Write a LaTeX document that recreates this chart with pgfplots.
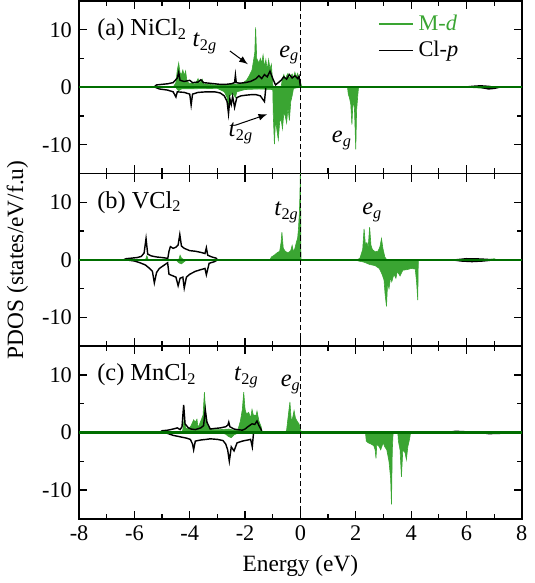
\documentclass[border=0pt]{standalone}
\usepackage{fontspec}
\setmainfont{Liberation Serif}
\usepackage{pgfplots}
\pgfplotsset{compat=1.18}
\usepgfplotslibrary{groupplots}

\definecolor{mdgreen}{RGB}{58,165,50}
\definecolor{zerogreen}{RGB}{0,110,0}

\pgfplotsset{
  pdos/.style={
    xmin=-8, xmax=8, ymin=-15, ymax=15,
    xtick={-8,-6,...,8}, minor x tick num=1,
    ytick={-10,0,10}, minor y tick num=1,
    tick align=inside, major tick length=4pt, minor tick length=2.5pt,
    tick style={black, line width=0.6pt},
    axis line style={line width=0.9pt},
    /pgf/number format/assume math mode=true,
    tick label style={font=\rmfamily\fontsize{11}{13}\selectfont},
    label style={font=\rmfamily\fontsize{11.5}{13}\selectfont},
  },
  dfill/.style={fill=mdgreen, draw=mdgreen, line width=0.3pt, forget plot},
  pline/.style={black, line width=0.7pt, forget plot},
}
\newcommand{\tg}{\textit{t}\textsubscript{2\textit{g}}}
\newcommand{\eg}{\textit{e}\textsubscript{\textit{g}}}

\begin{document}
\begin{tikzpicture}
\begin{groupplot}[
  group style={group size=1 by 3, vertical sep=0pt, xticklabels at=edge bottom},
  scale only axis, width=218pt, height=85pt, pdos
]
% ---------------- (a) NiCl2
\nextgroupplot[legend style={at={(0.66,0.97)}, anchor=north west, draw=none, fill=none,
  font=\fontsize{11}{13}\selectfont}, legend cell align=left]
\addlegendimage{mdgreen, line width=1pt}
\addlegendentry{\textcolor{mdgreen}{M-\textit{d}}}
\addlegendimage{black, line width=0.7pt}
\addlegendentry{Cl-\textit{p}}
\addplot[dfill] coordinates {(-4.6,0)(-4.5,0.8)(-4.45,3.0)(-4.4,4.2)(-4.35,2.5)(-4.3,2.2)(-4.25,3.0)(-4.2,2.0)(-4.15,2.8)(-4.1,1.0)(-4.0,0.6)(-3.9,0.8)(-3.8,0.5)(-3.7,1.5)(-3.65,0.6)(-3.55,1.4)(-3.5,0.6)(-3.3,0.5)(-3.1,0.4)(-2.9,0.5)(-2.7,0.4)(-2.5,0.6)(-2.3,0.5)(-2.1,0.7)(-1.95,1.2)(-1.85,2.0)(-1.75,3.0)(-1.7,4.5)(-1.65,6.0)(-1.62,10.4)(-1.58,5.0)(-1.5,4.2)(-1.45,5.0)(-1.4,4.2)(-1.35,5.6)(-1.3,3.5)(-1.25,4.8)(-1.2,3.0)(-1.15,4.8)(-1.1,3.2)(-1.05,4.0)(-1.0,0.5)(-0.98,0)(-0.7,0)(-0.65,1.5)(-0.6,2.2)(-0.55,1.3)(-0.5,2.0)(-0.45,2.4)(-0.4,1.5)(-0.3,2.3)(-0.25,1.6)(-0.2,2.6)(-0.15,1.8)(-0.1,2.4)(-0.05,1.5)(0.0,1.0)(0.05,0)} \closedcycle;
\addplot[dfill] coordinates {(-4.5,0)(-4.45,-0.4)(-4.4,-0.6)(-4.3,-0.3)(-3.0,-0.2)(-2.75,-0.8)(-2.65,-1.8)(-2.6,-3.0)(-2.55,-1.5)(-2.45,-1.0)(-2.35,-1.8)(-2.3,-0.8)(-2.0,-0.4)(-1.5,-0.3)(-1.0,-0.4)(-0.98,-5.0)(-0.94,-9.9)(-0.9,-5.5)(-0.85,-7.5)(-0.8,-9.1)(-0.75,-6.0)(-0.7,-5.5)(-0.65,-7.2)(-0.6,-4.5)(-0.55,-5.0)(-0.5,-6.2)(-0.45,-3.5)(-0.4,-5.8)(-0.35,-2.5)(-0.3,-1.5)(-0.25,-0.2)(0,0)} \closedcycle;
\addplot[dfill] coordinates {(1.7,0)(1.73,-1.2)(1.78,-2.0)(1.82,-3.0)(1.86,-6.5)(1.9,-2.5)(1.95,-3.5)(2.0,-10.8)(2.03,-4.0)(2.08,-1.0)(2.1,0)} \closedcycle;
\addplot[dfill] coordinates {(6.0,0)(6.3,-0.1)(6.7,-0.2)(7.0,-0.1)(7.3,0)} \closedcycle;
\addplot[pline] coordinates {(-5.30,0)(-5.20,0.4)(-5.0,0.5)(-4.8,0.6)(-4.6,0.8)(-4.45,1.6)(-4.4,2.6)(-4.35,1.2)(-4.2,1.0)(-4.0,1.2)(-3.9,0.8)(-3.7,0.9)(-3.6,1.3)(-3.5,0.8)(-3.3,0.7)(-3.1,0.6)(-2.9,0.5)(-2.7,0.5)(-2.5,0.6)(-2.38,0.8)(-2.35,2.1)(-2.32,0.8)(-2.2,0.7)(-2.0,0.8)(-1.8,1.0)(-1.6,1.5)(-1.5,2.0)(-1.4,1.5)(-1.3,2.2)(-1.2,1.8)(-1.1,2.8)(-1.0,1.5)(-0.9,0.4)(-0.7,1.2)(-0.6,1.8)(-0.5,1.4)(-0.4,2.2)(-0.3,1.6)(-0.2,2.0)(-0.1,1.5)(-0.05,1.9)(0.0,0)};
\addplot[pline] coordinates {(-5.25,0)(-5.1,-0.3)(-4.8,-0.5)(-4.6,-0.8)(-4.5,-1.7)(-4.45,-0.8)(-4.2,-0.9)(-4.0,-1.2)(-3.95,-3.1)(-3.9,-1.2)(-3.7,-0.9)(-3.4,-0.8)(-3.1,-0.8)(-2.9,-1.0)(-2.75,-1.5)(-2.65,-2.5)(-2.6,-4.6)(-2.55,-2.0)(-2.5,-3.0)(-2.45,-1.6)(-2.38,-3.5)(-2.3,-1.8)(-2.15,-1.5)(-2.0,-1.4)(-1.8,-1.3)(-1.6,-1.3)(-1.45,-1.5)(-1.3,-2.5)(-1.25,0)};
\addplot[pline] coordinates {(5.9,0)(6.2,0.15)(6.5,0.25)(6.8,0.15)(7.0,0)};
\addplot[pline] coordinates {(6.5,0)(6.8,-0.3)(7.0,-0.2)(7.2,0)};
\addplot[zerogreen, line width=1.1pt, forget plot] coordinates {(-8,0)(8,0)};
\addplot[black, dashed, line width=0.7pt, dash pattern=on 2.5pt off 1.5pt, forget plot] coordinates {(0,-15)(0,15)};
\node[anchor=west, font=\fontsize{12}{14}\selectfont] at (axis cs:-7.6,10) {(a) NiCl\textsubscript{2}};
\node[font=\fontsize{12}{14}\selectfont] at (axis cs:-3.45,7.6) {\tg};
\draw[-latex, line width=0.5pt] (axis cs:-2.55,6.3) -- (axis cs:-1.9,4.0);
\node[font=\fontsize{12}{14}\selectfont] at (axis cs:-2.15,-8.0) {\tg};
\draw[-latex, line width=0.5pt] (axis cs:-2.35,-6.6) -- (axis cs:-1.2,-4.7);
\node[font=\fontsize{12}{14}\selectfont] at (axis cs:-0.4,5.6) {\eg};
\node[font=\fontsize{12}{14}\selectfont] at (axis cs:1.5,-9.2) {\eg};
% ---------------- (b) VCl2
\nextgroupplot[ylabel={PDOS (states/eV/f.u)}]
\addplot[dfill] coordinates {(-5.6,0)(-5.55,0.7)(-5.5,0)(-4.4,0)(-4.35,0.8)(-4.3,0.3)(-4.2,0)} \closedcycle;
\addplot[dfill] coordinates {(-4.5,0)(-4.4,-0.5)(-4.3,-0.7)(-4.2,-0.3)(-4.1,0)} \closedcycle;
\addplot[dfill] coordinates {(-1.1,0)(-1.05,0.5)(-0.95,0.8)(-0.85,1.2)(-0.75,1.5)(-0.7,3.0)(-0.67,4.8)(-0.62,2.0)(-0.55,1.5)(-0.45,1.2)(-0.35,1.6)(-0.3,2.5)(-0.25,1.4)(-0.2,2.0)(-0.15,3.0)(-0.1,3.8)(-0.07,5.5)(-0.04,8.0)(-0.02,11)(0.0,16)(0.02,0)} \closedcycle;
\addplot[dfill] coordinates {(2.05,0)(2.15,0.3)(2.25,1.8)(2.3,5.4)(2.35,2.5)(2.4,3.0)(2.45,2.2)(2.5,5.7)(2.55,2.5)(2.6,1.8)(2.7,1.4)(2.8,1.5)(2.87,2.2)(2.93,3.7)(2.98,2.0)(3.05,0.5)(3.12,0)} \closedcycle;
\addplot[dfill] coordinates {(2.0,0)(2.1,-0.2)(2.3,-0.4)(2.5,-0.8)(2.7,-1.0)(2.85,-1.5)(2.95,-2.5)(3.02,-3.5)(3.06,-6.0)(3.11,-8.1)(3.15,-4.0)(3.2,-5.0)(3.26,-3.0)(3.3,-3.8)(3.38,-2.5)(3.45,-3.2)(3.5,-2.0)(3.6,-2.8)(3.7,-1.8)(3.85,-1.7)(4.0,-1.5)(4.15,-1.6)(4.2,-4.0)(4.24,-7.0)(4.26,0)} \closedcycle;
\addplot[dfill] coordinates {(6.8,0)(7.0,0.2)(7.1,0)} \closedcycle;
\addplot[pline] coordinates {(-6.4,0)(-6.3,0.2)(-6.1,0.3)(-5.9,0.4)(-5.75,0.6)(-5.65,1.2)(-5.58,3.7)(-5.52,1.0)(-5.4,0.7)(-5.2,0.5)(-5.0,0.4)(-4.85,0.3)(-4.8,0.1)(-4.75,1.5)(-4.7,2.3)(-4.6,2.0)(-4.5,2.2)(-4.42,2.6)(-4.36,4.4)(-4.3,2.4)(-4.2,2.0)(-4.1,1.8)(-4.0,1.6)(-3.8,1.5)(-3.6,1.3)(-3.45,1.1)(-3.4,2.1)(-3.35,0.8)(-3.2,0.5)(-3.05,0.3)(-3.0,0)};
\addplot[pline] coordinates {(-6.3,0)(-6.0,-0.2)(-5.8,-0.5)(-5.6,-0.9)(-5.45,-1.5)(-5.35,-2.0)(-5.28,-4.0)(-5.2,-2.2)(-5.1,-1.5)(-4.95,-1.0)(-4.8,-0.5)(-4.75,-2.5)(-4.6,-2.8)(-4.5,-3.0)(-4.42,-4.5)(-4.35,-3.2)(-4.25,-3.0)(-4.2,-4.9)(-4.12,-3.0)(-4.0,-2.5)(-3.8,-2.0)(-3.6,-1.7)(-3.45,-1.5)(-3.4,-2.6)(-3.3,-0.6)(-3.1,-0.3)(-3.0,0)};
\addplot[pline] coordinates {(5.6,0)(6.0,0.2)(6.5,0.15)(7.0,0)};
\addplot[pline] coordinates {(5.5,0)(5.8,-0.2)(6.2,-0.3)(6.6,-0.2)(7.0,0)};
\addplot[zerogreen, line width=1.1pt, forget plot] coordinates {(-8,0)(8,0)};
\addplot[black, dashed, line width=0.7pt, dash pattern=on 2.5pt off 1.5pt, forget plot] coordinates {(0,-15)(0,15)};
\node[anchor=west, font=\fontsize{12}{14}\selectfont] at (axis cs:-7.6,10) {(b) VCl\textsubscript{2}};
\node[font=\fontsize{12}{14}\selectfont] at (axis cs:-0.5,8.2) {\tg};
\node[font=\fontsize{12}{14}\selectfont] at (axis cs:2.6,8.2) {\eg};
% ---------------- (c) MnCl2
\nextgroupplot[xlabel={Energy (eV)}]
\addplot[dfill] coordinates {(-4.3,0)(-4.25,0.5)(-4.2,2.5)(-4.15,0.8)(-4.05,0.6)(-3.95,1.2)(-3.86,2.2)(-3.8,1.8)(-3.74,2.3)(-3.7,0.8)(-3.6,2.0)(-3.52,3.0)(-3.47,7.0)(-3.42,3.0)(-3.35,1.0)(-3.2,0.5)(-2.9,0.5)(-2.6,0.6)(-2.4,0.4)(-2.25,0.6)(-2.17,2.0)(-2.1,4.0)(-2.05,7.0)(-2.0,4.0)(-1.95,3.2)(-1.87,3.5)(-1.8,2.5)(-1.75,4.0)(-1.7,3.0)(-1.6,3.0)(-1.57,3.7)(-1.5,2.0)(-1.42,1.0)(-1.38,0)(-0.55,0)(-0.5,0.4)(-0.45,2.5)(-0.38,5.3)(-0.33,2.0)(-0.28,2.6)(-0.23,3.8)(-0.18,2.5)(-0.1,1.8)(-0.05,1.5)(0.03,0)} \closedcycle;
\addplot[dfill] coordinates {(-2.9,0)(-2.7,-0.3)(-2.6,-0.7)(-2.5,-0.9)(-2.4,-0.4)(-2.2,0)} \closedcycle;
\addplot[dfill] coordinates {(2.35,0)(2.38,-1.5)(2.45,-1.8)(2.55,-2.0)(2.65,-2.3)(2.7,-3.0)(2.73,-4.5)(2.76,-2.0)(2.85,-2.5)(2.9,-3.0)(2.99,-1.8)(3.05,-2.5)(3.12,-3.0)(3.2,-5.0)(3.26,-8)(3.29,-12.5)(3.32,-3.0)(3.35,0)(3.52,0)(3.54,-1.5)(3.6,-3.0)(3.65,-7.7)(3.7,-3.0)(3.78,-3.5)(3.83,-4.7)(3.88,-2.5)(3.95,-1.0)(3.98,0)} \closedcycle;
\addplot[pline] coordinates {(-5.1,0)(-5.0,0.3)(-4.8,0.4)(-4.6,0.6)(-4.45,0.8)(-4.35,0.5)(-4.28,1.0)(-4.22,4.8)(-4.17,1.5)(-4.05,0.8)(-3.95,0.6)(-3.8,0.5)(-3.6,0.8)(-3.5,1.2)(-3.44,4.0)(-3.38,1.8)(-3.26,0.6)(-3.1,0.7)(-2.89,0.8)(-2.7,1.0)(-2.62,1.3)(-2.59,1.8)(-2.55,1.0)(-2.4,0.6)(-2.29,0.5)(-2.1,0.4)(-2.0,0.6)(-1.9,1.0)(-1.75,1.5)(-1.65,1.4)(-1.57,2.0)(-1.5,1.2)(-1.42,0.5)(-1.39,0)};
\addplot[pline] coordinates {(-4.9,0)(-4.6,-0.5)(-4.3,-0.8)(-4.1,-1.0)(-3.98,-1.2)(-3.9,-2.0)(-3.86,-3.0)(-3.8,-1.5)(-3.6,-1.3)(-3.4,-1.2)(-3.26,-1.1)(-3.0,-1.2)(-2.8,-1.4)(-2.7,-2.0)(-2.63,-3.0)(-2.57,-5.0)(-2.5,-2.5)(-2.4,-3.2)(-2.29,-1.8)(-2.1,-1.5)(-1.9,-1.3)(-1.8,-1.2)(-1.74,-2.5)(-1.7,-0.3)(-1.68,0)};
\addplot[pline] coordinates {(5.3,0)(5.6,0.2)(5.9,0.15)(6.1,0)};
\addplot[pline] coordinates {(6.5,0)(6.8,-0.2)(7.2,-0.15)(7.4,0)};
\addplot[zerogreen, line width=1.1pt, forget plot] coordinates {(-8,0)(8,0)};
\addplot[black, dashed, line width=0.7pt, dash pattern=on 2.5pt off 1.5pt, forget plot] coordinates {(0,-15)(0,15)};
\node[anchor=west, font=\fontsize{12}{14}\selectfont] at (axis cs:-7.6,10) {(c) MnCl\textsubscript{2}};
\node[font=\fontsize{12}{14}\selectfont] at (axis cs:-1.95,9.6) {\tg};
\node[font=\fontsize{12}{14}\selectfont] at (axis cs:-0.35,8.3) {\eg};
\end{groupplot}
\end{tikzpicture}
\end{document}
